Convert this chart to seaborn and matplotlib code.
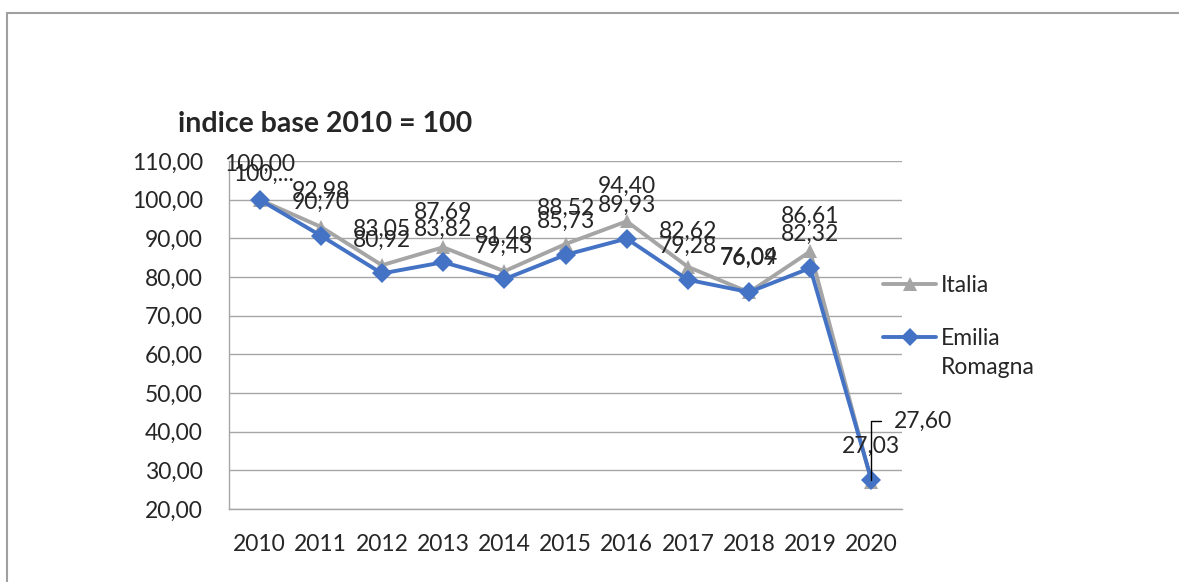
import numpy as np
import pandas as pd
import matplotlib
matplotlib.use("Agg")
import matplotlib.pyplot as plt
import seaborn as sns
from matplotlib.patches import Rectangle
from matplotlib.lines import Line2D

# data (index, 2010 = 100)
anni = ["2010", "2011", "2012", "2013", "2014", "2015", "2016", "2017", "2018", "2019", "2020"]
italia = [100.00, 92.98, 83.05, 87.69, 81.48, 88.52, 94.40, 82.62, 76.04, 86.61, 27.03]
emilia = [100.00, 90.70, 80.92, 83.82, 79.43, 85.73, 89.93, 79.28, 76.09, 82.32, 27.60]
y_ticks = [20, 30, 40, 50, 60, 70, 80, 90, 100, 110]

def fmt(v):
    return f"{v:.2f}".replace(".", ",")

df = pd.DataFrame({
    "pos": list(range(len(anni))) * 2,
    "valore": italia + emilia,
    "serie": ["Italia"] * len(anni) + ["Emilia Romagna"] * len(anni),
})

sns.set_style("white")
plt.rcParams["font.family"] = ["Lato", "DejaVu Sans"]

W, H = 1179, 582
FS = 16.5
fig = plt.figure(figsize=(W / 100, H / 100), dpi=100)
ax = fig.add_axes([229 / W, 1 - 509 / H, (902 - 229) / W, (509 - 161) / H])

GRAY = "#a5a5a5"
BLUE = "#4472c4"
AXC = "#a6a6a6"

sns.lineplot(data=df, x="pos", y="valore", hue="serie", style="serie",
             hue_order=["Italia", "Emilia Romagna"],
             palette={"Italia": GRAY, "Emilia Romagna": BLUE},
             markers={"Italia": "^", "Emilia Romagna": "D"},
             dashes=False, linewidth=2.8, markersize=10,
             markeredgewidth=0, ax=ax, legend=False)

ax.set_xlim(-0.5, len(anni) - 0.5)
ax.set_ylim(20, 110)
ax.set_yticks(y_ticks)
ax.set_yticklabels([fmt(v) for v in y_ticks], fontsize=FS)
ax.set_xticks(range(len(anni)))
ax.set_xticklabels(anni, fontsize=FS)
ax.set_xticks(np.arange(-0.5, len(anni), 1), minor=True)
ax.tick_params(axis="x", which="major", length=0, pad=18)
ax.tick_params(axis="x", which="minor", length=5.8, width=1, color=AXC)
ax.tick_params(axis="y", which="major", length=5.8, width=1, color=AXC, pad=13)
ax.set_xlabel("")
ax.set_ylabel("")
ax.grid(axis="y", color=AXC, linewidth=1)
ax.grid(axis="x", visible=False)
for s in ["top", "right"]:
    ax.spines[s].set_visible(False)
for s in ["left", "bottom"]:
    ax.spines[s].set_color(AXC)
    ax.spines[s].set_linewidth(1)

# data labels
for i, v in enumerate(italia):
    ax.annotate(fmt(v), (i, v), xytext=(0, 25.5), textcoords="offset points",
                ha="center", va="center", fontsize=FS)
for i, v in enumerate(emilia):
    txt = fmt(v)
    if i == 0:
        ax.annotate("100,...", (i, v), xytext=(3, 18), textcoords="offset points",
                    ha="center", va="center", fontsize=FS)
    elif i == len(emilia) - 1:
        ax.annotate(txt, (i, v), xytext=(16, 42), textcoords="offset points",
                    ha="left", va="center", fontsize=FS,
                    arrowprops=dict(arrowstyle="-", color="black", lw=1,
                                    connectionstyle="angle,angleA=0,angleB=90,rad=0",
                                    relpos=(0, 0.5), shrinkA=7, shrinkB=0))
    else:
        ax.annotate(txt, (i, v), xytext=(0, 24), textcoords="offset points",
                    ha="center", va="center", fontsize=FS)

# legend, drawn by hand so the handle sits on the first line of "Emilia Romagna"
leg_rows = [("Italia", GRAY, "^", 10, 284), ("Emilia\nRomagna", BLUE, "D", 9, 337)]
for lab, col, mk, ms, yy in leg_rows:
    fig.add_artist(Line2D([883 / W, 936 / W], [1 - yy / H] * 2, color=col, lw=2.8,
                          transform=fig.transFigure))
    fig.add_artist(Line2D([909.5 / W], [1 - yy / H], color=col, marker=mk, ms=ms,
                          mew=0, transform=fig.transFigure))
    fig.text(941 / W, 1 - (yy - 9) / H, lab, fontsize=FS, ha="left", va="top",
             linespacing=1.45)

fig.text(178 / W, 1 - 124 / H, "indice base 2010 = 100", fontsize=20.5,
         fontweight="bold", ha="left", va="center")

fig.add_artist(Rectangle((7 / W, -0.2), 1.3, 1.2 - 13 / H, fill=False,
                         edgecolor="#a0a0a0", lw=1.5, transform=fig.transFigure))

fig.savefig("out.png", dpi=100)
